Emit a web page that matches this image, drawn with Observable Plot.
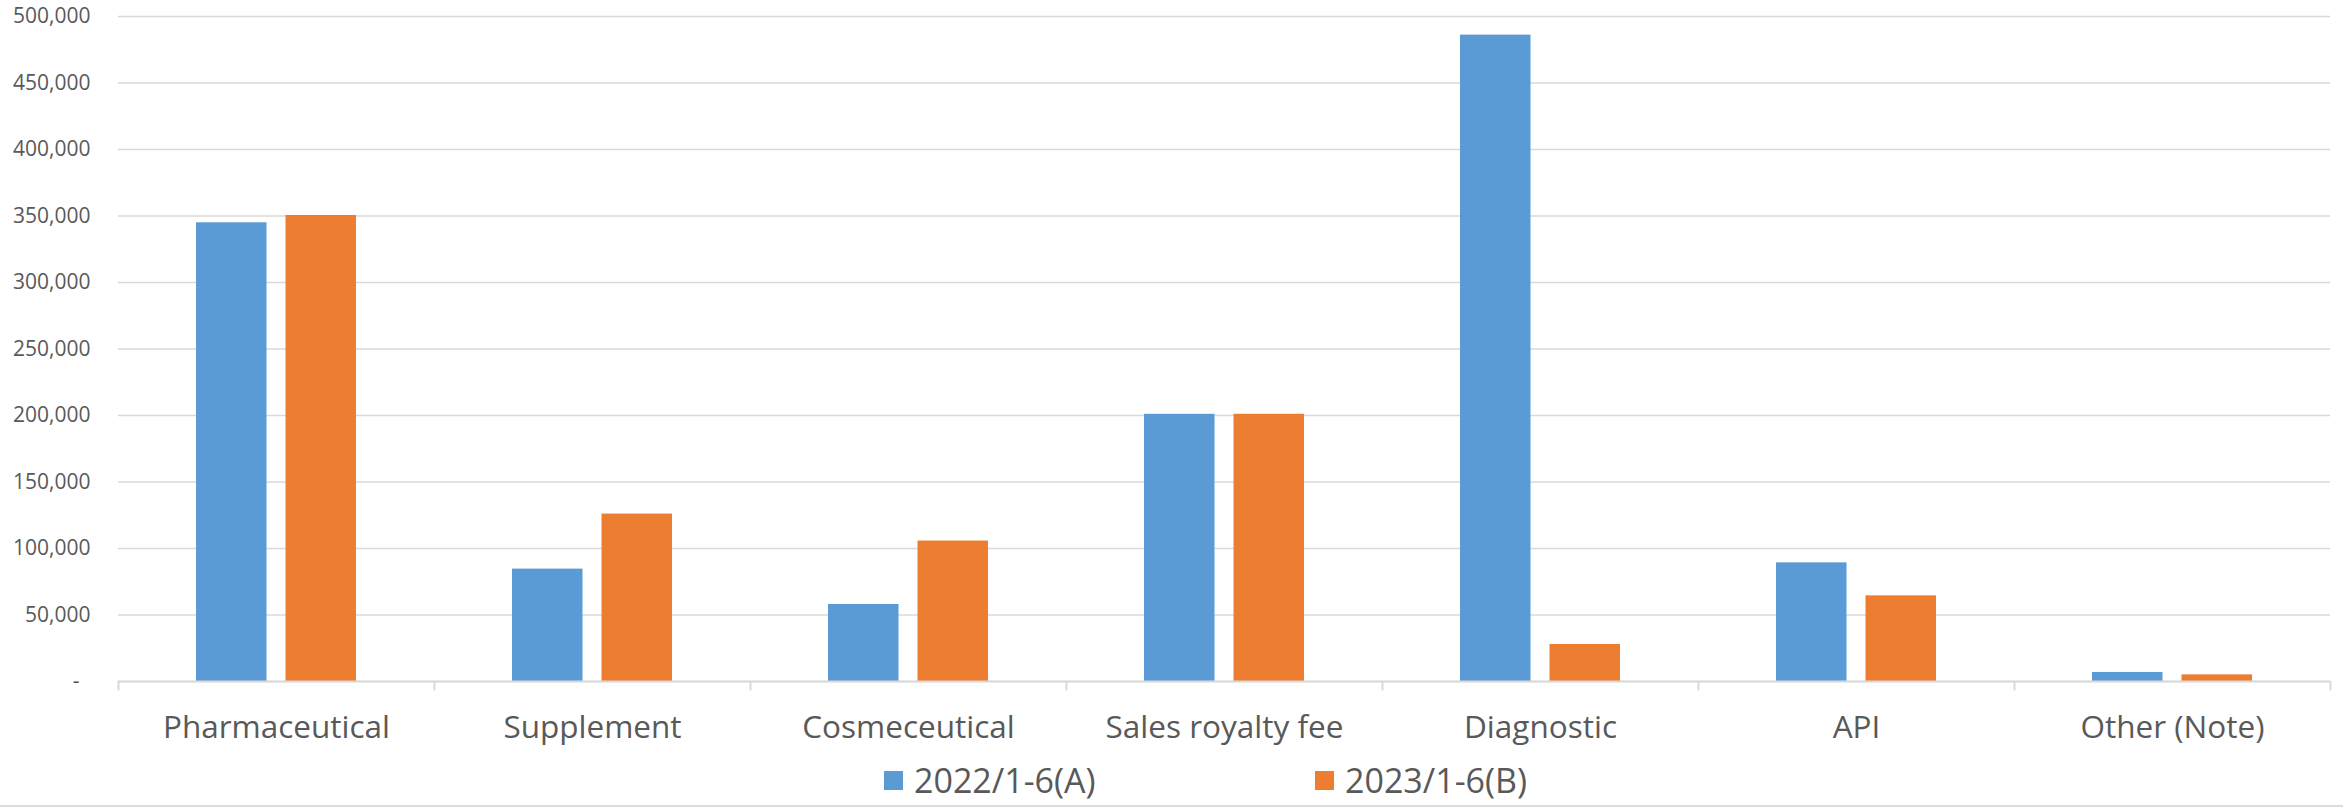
<!DOCTYPE html>
<html>
<head>
<meta charset="utf-8">
<script src="https://cdn.jsdelivr.net/npm/d3@7"></script>
<script src="https://cdn.jsdelivr.net/npm/@observablehq/plot@0.6"></script>
<style>
  html, body { margin: 0; padding: 0; background: #ffffff; }
  #wrap { width: 2343px; height: 805px; border-bottom: 2px solid #dcdcdc; position: relative; overflow: hidden; }
  #legend { position: absolute; left: 0; top: 758px; height: 44px; font-family: "Open Sans", sans-serif; font-size: 34px; color: #595959; white-space: nowrap; }
  .item { position: absolute; top: 0; display: flex; align-items: center; height: 44px; }
  .sw { width: 19px; height: 19px; margin-right: 11px; }
</style>
</head>
<body>
<div id="wrap"><div id="chart"></div><div id="legend"></div></div>
<script>
const categories = ["Pharmaceutical", "Supplement", "Cosmeceutical", "Sales royalty fee", "Diagnostic", "API", "Other (Note)"];
const seriesNames = ["2022/1-6(A)", "2023/1-6(B)"];
const valuesA = [344900, 84500, 57900, 200900, 486000, 89200, 6800];
const valuesB = [350400, 125900, 105600, 200900, 27800, 64400, 5000];
const yTicks = [0, 50000, 100000, 150000, 200000, 250000, 300000, 350000, 400000, 450000, 500000];
const colors = ["#5b9bd5", "#ed7d31"];

const W = 2343, ML = 118, MR = 13;
const band = (W - ML - MR) / categories.length;
const barW = 70.5, gap = 19;
const outer = (band - 2 * barW - gap) / 2;
const grid = "#d9d9d9";
const fmt = d => d === 0 ? "-\u00a0\u00a0" : d3.format(",")(d);

const chart = Plot.plot({
  width: W,
  height: 750,
  marginLeft: ML,
  marginRight: MR,
  marginTop: 16,
  marginBottom: 69,
  x: {domain: categories, padding: 0},
  y: {domain: [0, 500000]},
  style: {fontFamily: "'Open Sans', sans-serif", color: "#595959", background: "white"},
  marks: [
    Plot.gridY(yTicks, {stroke: grid, strokeOpacity: 1, strokeWidth: 1.6}),
    Plot.axisY(yTicks, {tickSize: 0, tickPadding: 28, tickFormat: fmt, fontSize: 21, label: null}),
    Plot.barY(categories, {x: d => d, y: (d, i) => valuesA[i], fill: colors[0], insetLeft: outer, insetRight: outer + barW + gap}),
    Plot.barY(categories, {x: d => d, y: (d, i) => valuesB[i], fill: colors[1], insetLeft: outer + barW + gap, insetRight: outer}),
    Plot.ruleY([0], {stroke: grid, strokeWidth: 2}),
    Plot.ruleX(categories, {x: d => d, dx: -band / 2, y1: 0, y2: -7000, stroke: grid, strokeWidth: 2}),
    Plot.ruleX(categories.slice(-1), {x: d => d, dx: band / 2, y1: 0, y2: -7000, stroke: grid, strokeWidth: 2}),
    Plot.axisX({tickSize: 0, tickPadding: 34, fontSize: 31.5, label: null})
  ]
});
document.getElementById("chart").appendChild(chart);

const legend = document.getElementById("legend");
const lefts = [884, 1315];
seriesNames.forEach((name, i) => {
  const item = document.createElement("div");
  item.className = "item";
  item.style.left = lefts[i] + "px";
  const sw = document.createElement("div");
  sw.className = "sw";
  sw.style.background = colors[i];
  const tx = document.createElement("span");
  tx.textContent = name;
  item.appendChild(sw);
  item.appendChild(tx);
  legend.appendChild(item);
});
</script>
</body>
</html>
